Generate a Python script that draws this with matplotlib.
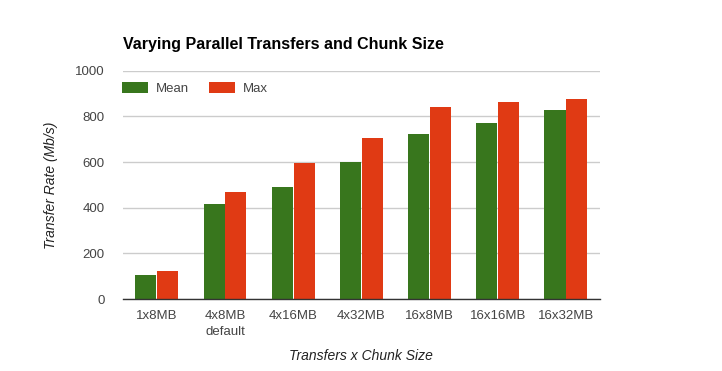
import numpy as np
import matplotlib
matplotlib.use('Agg')
from matplotlib import pyplot as plt
from matplotlib.patches import Patch

categories = ['1x8MB', '4x8MB\ndefault', '4x16MB', '4x32MB', '16x8MB', '16x16MB', '16x32MB']
mean_rate = [105, 415, 490, 600, 724, 770, 827]
max_rate = [123, 468, 597, 705, 840, 862, 875]

green = '#38761d'
red = '#e03a14'
text_col = '#444444'

plt.rcParams['font.family'] = ['Liberation Sans', 'DejaVu Sans']

fig = plt.figure(figsize=(7.22, 3.71), dpi=100)
ax = fig.add_axes([0.170, 0.194, 0.661, 0.615])

x = np.arange(len(categories))
w = 0.31
ax.bar(x - w / 2 - 0.005, mean_rate, w, color=green, zorder=3)
ax.bar(x + w / 2 + 0.005, max_rate, w, color=red, zorder=3)

ax.set_xlim(-0.5, len(categories) - 0.5)
ax.set_ylim(0, 1000)
ax.set_yticks([0, 200, 400, 600, 800, 1000])
ax.set_xticks(x)
ax.set_xticklabels(categories, fontsize=9.5, color=text_col, linespacing=1.45)
ax.tick_params(axis='y', labelsize=9.5, labelcolor=text_col, length=0, pad=13)
ax.tick_params(axis='x', length=0, pad=8)
ax.grid(axis='y', color='#cccccc', linewidth=1, zorder=0)
for s in ['top', 'right', 'left']:
    ax.spines[s].set_visible(False)
ax.spines['bottom'].set_color('#333333')
ax.spines['bottom'].set_linewidth(1)
ax.spines['bottom'].set_zorder(4)

ax.set_ylabel('Transfer Rate (Mb/s)', fontsize=10, style='italic', color='#222222', labelpad=12)
ax.set_xlabel('Transfers x Chunk Size', fontsize=10, style='italic', color='#222222', labelpad=8)

fig.text(0.170, 0.88, 'Varying Parallel Transfers and Chunk Size', fontsize=11.5,
         fontweight='bold', color='black', ha='left', va='center')

handles = [Patch(facecolor=green, label='Mean'), Patch(facecolor=red, label='Max')]
ax.legend(handles=handles, loc='upper left', bbox_to_anchor=(-0.027, 1.005), ncol=2,
          frameon=False, fontsize=9.5, handlelength=2.0, handleheight=0.9,
          columnspacing=1.5, handletextpad=0.6, labelcolor=text_col)

fig.savefig('out.png', dpi=100, facecolor='white')
